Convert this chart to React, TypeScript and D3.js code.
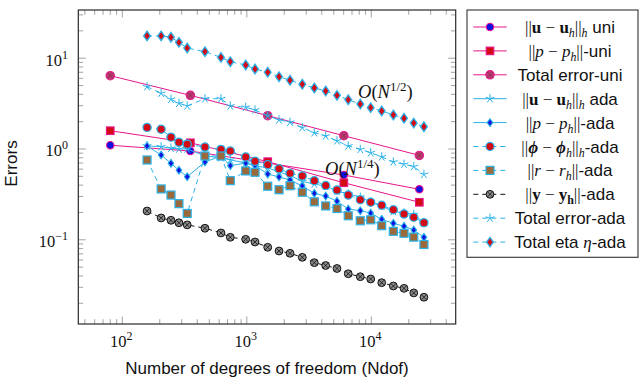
import React from 'react';
import * as d3 from 'd3';

// ---------- data ----------
const uniNdof = [80, 352, 1472, 6016, 24320];
const uniU = [1.1, 0.95, 0.7, 0.517, 0.36];
const uniP = [1.59, 1.17, 0.725, 0.425, 0.259];
const uniTotal = [6.42, 3.9, 2.33, 1.4, 0.85];

const adaNdof = [158, 205, 246, 285, 332, 461, 620, 737, 980, 1164, 1472, 1815, 2224, 2791, 3486, 4303, 5302, 6530, 8159, 9890, 12126, 15036, 18325, 21928, 26479];
const adaU = [1.08, 1.06, 1.02, 1.0, 1.0, 0.84, 0.8, 0.76, 0.7, 0.65, 0.62, 0.56, 0.51, 0.44, 0.41, 0.39, 0.345, 0.32, 0.295, 0.26, 0.235, 0.205, 0.198, 0.19, 0.155];
const adaP = [1.079, 0.859, 0.696, 0.583, 0.495, 0.719, 0.837, 0.655, 0.7, 0.66, 0.53, 0.492, 0.456, 0.391, 0.325, 0.303, 0.266, 0.218, 0.209, 0.197, 0.168, 0.152, 0.141, 0.128, 0.1065];
const adaPhi = [1.73, 1.65, 1.35, 1.185, 1.13, 1.05, 0.99, 0.95, 0.817, 0.734, 0.672, 0.605, 0.539, 0.504, 0.448, 0.396, 0.353, 0.311, 0.276, 0.259, 0.24, 0.214, 0.192, 0.177, 0.154];
const adaR = [0.757, 0.363, 0.311, 0.25, 0.195, 0.837, 0.837, 0.448, 0.573, 0.554, 0.389, 0.356, 0.394, 0.334, 0.262, 0.236, 0.221, 0.184, 0.162, 0.166, 0.143, 0.124, 0.118, 0.107, 0.0888];
const adaY = [0.2075, 0.174, 0.164, 0.154, 0.146, 0.134, 0.119, 0.1066, 0.1013, 0.0946, 0.0827, 0.0753, 0.071, 0.0641, 0.056, 0.0521, 0.0483, 0.0423, 0.0392, 0.037, 0.0337, 0.031, 0.0292, 0.026, 0.0233];
const adaTotal = [4.85, 4.11, 3.53, 3.19, 2.98, 3.58, 3.58, 2.98, 2.88, 2.69, 2.33, 2.09, 1.97, 1.72, 1.51, 1.39, 1.23, 1.08, 0.99, 0.91, 0.82, 0.72, 0.68, 0.64, 0.526];
const adaEta = [17.6, 17.6, 17.0, 14.96, 12.95, 11.8, 10.2, 9.15, 8.41, 7.6, 7.0, 6.25, 5.71, 5.16, 4.7, 4.35, 3.9, 3.49, 3.13, 2.85, 2.62, 2.37, 2.18, 1.93, 1.76];

const xMajorTicks = [100, 1000, 10000];
const xTickExps = ['2', '3', '4'];
const yMajorTicks = [0.1, 1, 10];
const yTickExps = ['\u22121', '0', '1'];

const xLabel = 'Number of degrees of freedom (Ndof)';
const yLabel = 'Errors';

// ---------- styling ----------
const W = 643, H = 387;
const L = 78.3, R = 455.7, T = 10, B = 324;
const MAG = '#e8168c';
const CYAN = '#2ab2ea';
const BLUE = '#1010e0';
const RED = '#d40a14';
const BROWN = '#9a6a3c';
const TOT = '#b83a6e';
const SERIF = "'Liberation Serif', 'DejaVu Serif', serif";
const SANS = "'Liberation Sans', 'DejaVu Sans', sans-serif";

const x = d3.scaleLog().domain([44.3, 47650]).range([L, R]);
const y = d3.scaleLog().domain([0.01182, 33.95]).range([B, T]);

type MarkerType = 'circleBlue' | 'squareRed' | 'otimesPink' | 'star' | 'diamondSmall' | 'circleRed' | 'squareBrown' | 'otimesBlack' | 'diamondRed';

function Marker({ type, cx, cy }: { type: MarkerType; cx: number; cy: number }) {
  switch (type) {
    case 'circleBlue':
      return <circle cx={cx} cy={cy} r={3.7} fill={BLUE} stroke={MAG} strokeWidth={1.1} />;
    case 'squareRed':
      return <rect x={cx - 3.8} y={cy - 3.8} width={7.6} height={7.6} fill={RED} stroke={MAG} strokeWidth={1.1} />;
    case 'otimesPink': {
      const r = 4.2, k = r * 0.7;
      return (
        <g>
          <circle cx={cx} cy={cy} r={r} fill={TOT} stroke={MAG} strokeWidth={1.1} />
          <path d={`M${cx - k},${cy - k}L${cx + k},${cy + k}M${cx - k},${cy + k}L${cx + k},${cy - k}`} stroke="#8a2a50" strokeWidth={0.7} />
        </g>
      );
    }
    case 'otimesBlack': {
      const r = 3.9, k = r * 0.7;
      return (
        <g>
          <circle cx={cx} cy={cy} r={r} fill="#8a8a8a" stroke="#111" strokeWidth={1} />
          <path d={`M${cx - k},${cy - k}L${cx + k},${cy + k}M${cx - k},${cy + k}L${cx + k},${cy - k}`} stroke="#111" strokeWidth={0.8} />
        </g>
      );
    }
    case 'star': {
      const r = 4.6;
      let d = '';
      for (let i = 0; i < 5; i++) {
        const a = -Math.PI / 2 + (i * 2 * Math.PI) / 5;
        d += `M${cx},${cy}L${cx + r * Math.cos(a)},${cy + r * Math.sin(a)}`;
      }
      return <path d={d} stroke={CYAN} strokeWidth={1} fill="none" />;
    }
    case 'diamondSmall': {
      const w = 2.8, h = 3.9;
      return <path d={`M${cx},${cy - h}L${cx + w},${cy}L${cx},${cy + h}L${cx - w},${cy}Z`} fill={BLUE} stroke={CYAN} strokeWidth={1.1} />;
    }
    case 'diamondRed': {
      const w = 3.4, h = 4.8;
      return <path d={`M${cx},${cy - h}L${cx + w},${cy}L${cx},${cy + h}L${cx - w},${cy}Z`} fill={RED} stroke={CYAN} strokeWidth={1.3} />;
    }
    case 'circleRed':
      return <circle cx={cx} cy={cy} r={4.1} fill={RED} stroke={CYAN} strokeWidth={1.2} />;
    case 'squareBrown':
      return <rect x={cx - 4} y={cy - 4} width={8} height={8} fill={BROWN} stroke={CYAN} strokeWidth={1.2} />;
  }
  return null;
}

type Part = { t: string; f?: 'serif' | 'sans'; b?: boolean; i?: boolean; sub?: boolean };

const legendLabels: Part[][] = [
  [{ t: '||' }, { t: 'u', b: true }, { t: ' \u2212 ' }, { t: 'u', b: true }, { t: 'h', i: true, sub: true }, { t: '||' }, { t: 'h', i: true, sub: true }, { t: ' uni', f: 'sans' }],
  [{ t: '||' }, { t: 'p', i: true }, { t: ' \u2212 ' }, { t: 'p', i: true }, { t: 'h', i: true, sub: true }, { t: '||' }, { t: '-uni', f: 'sans' }],
  [{ t: 'Total error-uni', f: 'sans' }],
  [{ t: '||' }, { t: 'u', b: true }, { t: ' \u2212 ' }, { t: 'u', b: true }, { t: 'h', i: true, sub: true }, { t: '||' }, { t: 'h', i: true, sub: true }, { t: ' ada', f: 'sans' }],
  [{ t: '||' }, { t: 'p', i: true }, { t: ' \u2212 ' }, { t: 'p', i: true }, { t: 'h', i: true, sub: true }, { t: '||' }, { t: '-ada', f: 'sans' }],
  [{ t: '||' }, { t: '\u03d5', b: true, i: true }, { t: ' \u2212 ' }, { t: '\u03d5', b: true, i: true }, { t: 'h', i: true, sub: true }, { t: '||' }, { t: 'h', i: true, sub: true }, { t: '-ada', f: 'sans' }],
  [{ t: '||' }, { t: 'r', i: true }, { t: ' \u2212 ' }, { t: 'r', i: true }, { t: 'h', i: true, sub: true }, { t: '||' }, { t: '-ada', f: 'sans' }],
  [{ t: '||' }, { t: 'y', b: true }, { t: ' \u2212 ' }, { t: 'y', b: true }, { t: 'h', b: true, sub: true }, { t: '||' }, { t: '-ada', f: 'sans' }],
  [{ t: 'Total error-ada', f: 'sans' }],
  [{ t: 'Total eta ', f: 'sans' }, { t: '\u03b7', i: true }, { t: '-ada', f: 'sans' }],
];

type Series = { xs: number[]; ys: number[]; color: string; dash: boolean; marker: MarkerType };

const series: Series[] = [
  { xs: uniNdof, ys: uniU, color: MAG, dash: false, marker: 'circleBlue' },
  { xs: uniNdof, ys: uniP, color: MAG, dash: false, marker: 'squareRed' },
  { xs: uniNdof, ys: uniTotal, color: MAG, dash: false, marker: 'otimesPink' },
  { xs: adaNdof, ys: adaU, color: CYAN, dash: false, marker: 'star' },
  { xs: adaNdof, ys: adaP, color: CYAN, dash: false, marker: 'diamondSmall' },
  { xs: adaNdof, ys: adaPhi, color: CYAN, dash: true, marker: 'circleRed' },
  { xs: adaNdof, ys: adaR, color: CYAN, dash: true, marker: 'squareBrown' },
  { xs: adaNdof, ys: adaY, color: '#111', dash: true, marker: 'otimesBlack' },
  { xs: adaNdof, ys: adaTotal, color: CYAN, dash: true, marker: 'star' },
  { xs: adaNdof, ys: adaEta, color: CYAN, dash: true, marker: 'diamondRed' },
];

function renderParts(parts: Part[], size: number) {
  let shift = 0;
  return parts.map((p, i) => {
    const target = p.sub ? 4 : 0;
    const dy = target - shift;
    shift = target;
    return (
      <tspan
        key={i}
        dy={dy}
        fontFamily={p.f === 'sans' ? SANS : SERIF}
        fontWeight={p.b ? 'bold' : 'normal'}
        fontStyle={p.i ? 'italic' : 'normal'}
        fontSize={p.sub ? size * 0.7 : size}
      >
        {p.t}
      </tspan>
    );
  });
}

export default function App() {
  const line = d3.line<[number, number]>().x((d) => x(d[0])).y((d) => y(d[1]));

  const xMinor: number[] = [];
  for (let e = 1; e <= 4; e++) for (let k = 2; k <= 9; k++) {
    const v = k * Math.pow(10, e);
    if (v > 44.3 && v < 47650) xMinor.push(v);
  }
  const yMinor: number[] = [];
  for (let e = -2; e <= 1; e++) for (let k = 2; k <= 9; k++) {
    const v = k * Math.pow(10, e);
    if (v > 0.01182 && v < 33.95) yMinor.push(v);
  }

  const tickColor = '#8c8c8c';
  const legX0 = 467, legY0 = 10, legW = 171, legH = 247.3;

  return (
    <svg width={W} height={H} style={{ position: 'absolute', left: 0, top: 0, background: '#fff' }}>
      <rect x={0} y={0} width={W} height={H} fill="#fff" />
      {/* ticks */}
      <g stroke={tickColor} strokeWidth={0.8}>
        {xMinor.map((v, i) => (
          <g key={'xm' + i}>
            <line x1={x(v)} x2={x(v)} y1={B} y2={B - 4.8} />
            <line x1={x(v)} x2={x(v)} y1={T} y2={T + 4.8} />
          </g>
        ))}
        {xMajorTicks.map((v, i) => (
          <g key={'xM' + i}>
            <line x1={x(v)} x2={x(v)} y1={B} y2={B - 7.5} />
            <line x1={x(v)} x2={x(v)} y1={T} y2={T + 7.5} />
          </g>
        ))}
        {yMinor.map((v, i) => (
          <g key={'ym' + i}>
            <line x1={L} x2={L + 4.8} y1={y(v)} y2={y(v)} />
            <line x1={R} x2={R - 4.8} y1={y(v)} y2={y(v)} />
          </g>
        ))}
        {yMajorTicks.map((v, i) => (
          <g key={'yM' + i}>
            <line x1={L} x2={L + 7.5} y1={y(v)} y2={y(v)} />
            <line x1={R} x2={R - 7.5} y1={y(v)} y2={y(v)} />
          </g>
        ))}
      </g>

      {/* series */}
      {series.map((s, si) => {
        const pts = s.xs.map((v, i) => [v, s.ys[i]] as [number, number]);
        return (
          <g key={'s' + si}>
            <path d={line(pts) || ''} fill="none" stroke={s.color} strokeWidth={1} strokeDasharray={s.dash ? '5,4' : undefined} />
            {pts.map((p, i) => (
              <Marker key={i} type={s.marker} cx={x(p[0])} cy={y(p[1])} />
            ))}
          </g>
        );
      })}

      {/* frame */}
      <rect x={L} y={T} width={R - L} height={B - T} fill="none" stroke="#2a2a2a" strokeWidth={1.2} />

      {/* tick labels */}
      {xMajorTicks.map((v, i) => (
        <text key={'xl' + i} x={x(v) - 1} y={346.7} textAnchor="middle" fontFamily={SERIF} fontSize={16.5} fill="#111">
          10<tspan dy={-7} fontSize={12}>{xTickExps[i]}</tspan>
        </text>
      ))}
      {yMajorTicks.map((v, i) => (
        <text key={'yl' + i} x={68} y={y(v) + 7.5} textAnchor="end" fontFamily={SERIF} fontSize={16.5} fill="#111">
          10<tspan dy={-7} fontSize={12}>{yTickExps[i]}</tspan>
        </text>
      ))}

      {/* annotations */}
      <text x={358} y={98} fontFamily={SERIF} fontSize={18.5} fill="#111">
        <tspan fontStyle="italic">O</tspan>(<tspan fontStyle="italic">N</tspan>
        <tspan dy={-7.5} fontSize={13}>1/2</tspan>
        <tspan dy={7.5}>)</tspan>
      </text>
      <text x={325} y={175} fontFamily={SERIF} fontSize={18.5} fill="#111">
        <tspan fontStyle="italic">O</tspan>(<tspan fontStyle="italic">N</tspan>
        <tspan dy={-7.5} fontSize={13}>1/4</tspan>
        <tspan dy={7.5}>)</tspan>
      </text>

      {/* axis labels */}
      <text x={267} y={374} textAnchor="middle" fontFamily={SANS} fontSize={17} fill="#111">{xLabel}</text>
      <text transform="translate(16.5,163.5) rotate(-90)" textAnchor="middle" fontFamily={SANS} fontSize={17} fill="#111">{yLabel}</text>

      {/* legend */}
      <rect x={legX0} y={legY0} width={legW} height={legH} fill="#fff" stroke="#333" strokeWidth={1.1} />
      {series.map((s, i) => {
        const cy = 27 + 23.9 * i;
        return (
          <g key={'lg' + i}>
            <line x1={473.3} x2={506.7} y1={cy} y2={cy} stroke={s.color} strokeWidth={1} strokeDasharray={s.dash ? '5,4' : undefined} />
            <Marker type={s.marker} cx={490} cy={cy} />
            <text x={570} y={cy + 6} textAnchor="middle" fontSize={17} fill="#111">
              {renderParts(legendLabels[i], 17)}
            </text>
          </g>
        );
      })}
    </svg>
  );
}
